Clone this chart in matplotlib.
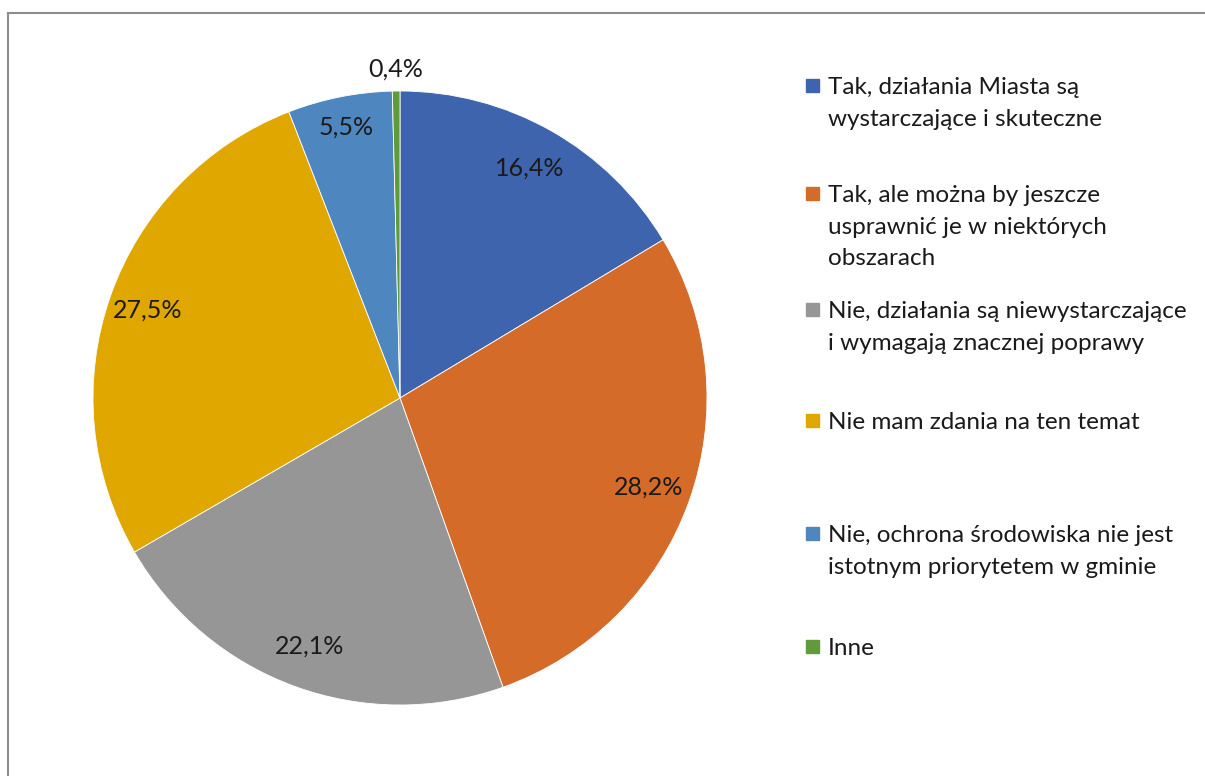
import numpy as np
import matplotlib
matplotlib.use("Agg")
import matplotlib.pyplot as plt
from matplotlib.lines import Line2D

plt.rcParams['font.family'] = ['Lato', 'DejaVu Sans']

# Data
categories = [
    "Tak, działania Miasta są\nwystarczające i skuteczne",
    "Tak, ale można by jeszcze\nusprawnić je w niektórych\nobszarach",
    "Nie, działania są niewystarczające\ni wymagają znacznej poprawy",
    "Nie mam zdania na ten temat",
    "Nie, ochrona środowiska nie jest\nistotnym priorytetem w gminie",
    "Inne",
]
values = [16.4, 28.2, 22.1, 27.5, 5.5, 0.4]
colors = ["#3F64AE", "#D46B29", "#969696", "#E0A700", "#4E87BF", "#5F9B3A"]

W, H = 1205, 776
fig = plt.figure(figsize=(W / 100, H / 100), dpi=100)

# chart area border (top and left visible)
fig.add_artist(Line2D([8 / W, 8 / W], [0, 1 - 13 / H], color="#8c8c8c", lw=1.5))
fig.add_artist(Line2D([8 / W, 1], [1 - 13 / H, 1 - 13 / H], color="#8c8c8c", lw=1.5))

# pie axes: centre (400, 398), radius 307 px
cx, cy, r = 400, 398, 307
ax = fig.add_axes([(cx - r) / W, 1 - (cy + r) / H, 2 * r / W, 2 * r / H])
wedges, _ = ax.pie(values, colors=colors, startangle=90, counterclock=False,
                   radius=1, wedgeprops=dict(linewidth=0.6, edgecolor="white"))
ax.set_xlim(-1, 1)
ax.set_ylim(-1, 1)
ax.set_aspect("equal")
ax.axis("off")

# percentage labels
label_dist = [0.86, 0.86, 0.86, 0.87, 0.90, 1.07]
for w, v, d in zip(wedges, values, label_dist):
    ang = np.deg2rad((w.theta1 + w.theta2) / 2)
    ax.text(d * np.cos(ang), d * np.sin(ang), f"{v:.1f}%".replace(".", ","),
            ha="center", va="center", fontsize=18, color="#1a1a1a")

# legend
leg_y = [86, 194, 310, 421, 534, 647]
for lab, col, y in zip(categories, colors, leg_y):
    fig.patches.append(plt.Rectangle((806 / W, 1 - (y + 6) / H), 13 / W, 13 / H,
                                     transform=fig.transFigure, color=col))
    fig.text(828 / W, 1 - (y - 9) / H, lab, ha="left", va="top", fontsize=17.5,
             color="#1a1a1a", linespacing=1.62)

fig.savefig("out.png", dpi=100)
